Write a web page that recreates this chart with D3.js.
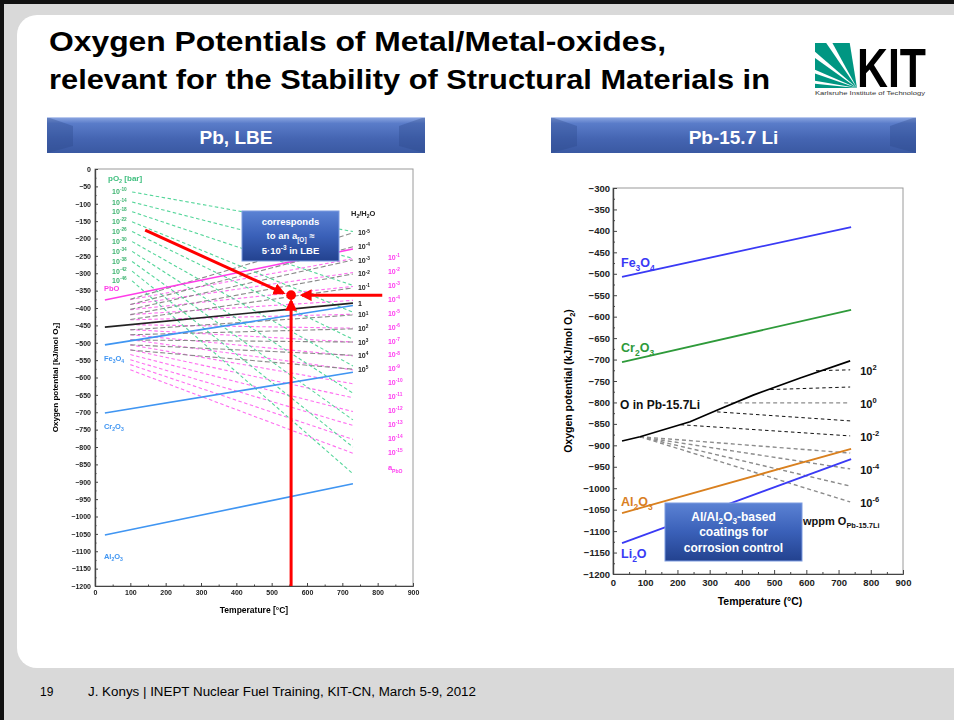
<!DOCTYPE html>
<html><head><meta charset="utf-8">
<script src="https://cdn.jsdelivr.net/npm/d3@7"></script>
<style>
body{margin:0;background:#fff}
svg{display:block}
text{font-family:Arial,"Liberation Sans",sans-serif}
</style>
</head><body>
<svg id="slide" width="954" height="720"></svg>
<script>
// ---------- shared axis values ----------
const tempTicks = [0,100,200,300,400,500,600,700,800,900];

// ---------- Pb / LBE diagram ----------
const lbeTicks = [0,-50,-100,-150,-200,-250,-300,-350,-400,-450,-500,-550,-600,-650,-700,-750,-800,-850,-900,-950,-1000,-1050,-1100,-1150,-1200];
// oxygen partial pressure isobars (start at 105 °C, end at 730 °C)
const pO2Exp   = [-10,-14,-18,-22,-26,-30,-34,-38,-42,-46];
const pO2Start = [-66,-95,-123,-152,-180,-209,-237,-266,-294,-322];
const pO2End   = [-180,-257,-335,-412,-490,-567,-645,-722,-800,-877];
const pO2Temps = [105,730];
// PbO activity lines (start at 100 °C, end at 730 °C)
const aPbOExp   = [-1,-2,-3,-4,-5,-6,-7,-8,-9,-10,-11,-12,-13,-14,-15];
const aPbOStart = [-376,-390,-405,-419,-434,-448,-462,-477,-491,-506,-520,-534,-549,-563,-578];
const aPbOEnd   = [-258,-298,-338,-378,-418,-458,-498,-538,-578,-618,-658,-698,-738,-778,-818];
const aPbOTemps = [100,730];
// H2/H2O ratio lines (start at 100 °C, end at 730 °C); exponent 0 is the solid line
const h2Exp   = [-5,-4,-3,-2,-1,0,1,2,3,4,5];
const h2Start = [-375,-390,-404,-419,-433,-448,-463,-477,-492,-506,-521];
const h2End   = [-184,-224,-262,-302,-342,-386,-420,-460,-498,-536,-576];
const h2Temps = [100,730];
const h2UnitStart = [28,-455];   // solid H2/H2O = 1 line begins at lower temperature
// metal / metal-oxide equilibria
const lbeOxides = ["PbO","Fe_3O_4","Cr_2O_3","Al_2O_3"];
const lbeOxStart = [-377,-506,-702,-1053];
const lbeOxEnd   = [-230,-393,-585,-906];
const lbeOxTemps = [28,730];
// operating point marked in red (temperature °C, potential kJ/mol O2)
const lbePoint = [555,-363];
const lbeArrowDiag = [[142,-176],[533,-357]];
const lbeArrowSide = [[813,-363],[586,-363]];
const lbeArrowUp   = [[555,-1200],[555,-380]];

// ---------- Pb-15.7Li diagram ----------
const liTicks = [-300,-350,-400,-450,-500,-550,-600,-650,-700,-750,-800,-850,-900,-950,-1000,-1050,-1100,-1150,-1200];
const liOxides  = ["Fe_3O_4","Cr_2O_3","Al_2O_3","Li_2O"];
const liOxStart = [-507,-706,-1058,-1128];
const liOxEnd   = [-391,-584,-908,-932];
const liOxTemps = [28,739];
// oxygen saturation in Pb-15.7Li
const satTemp = [28,84,239,326,435,581,736];
const satMu   = [-890,-880,-845,-817,-783,-743,-703];
// iso-concentration lines, wppm O
const wppmExp     = [2,1,0,-1,-2,-3,-4,-5,-6];
const wppmStartT  = [630,488,345,323,210,84,84,84,84];
const wppmStartMu = [-726,-770,-801,-822,-852,-880,-880,-880,-880];
const wppmEnd     = [-724,-764,-801,-843,-878,-918,-955,-995,-1032];
const wppmEndT    = 736;
const wppmLabelled = [2,0,-2,-4,-6];

// ---------- helpers ----------
const slide = d3.select("#slide");
const FONT = 'Arial,"Liberation Sans",sans-serif';

// "_x" or "_{..}" = subscript, "^x" or "^{..}" = superscript
function parseRich(s){
  const parts = [];
  const re = /_\{([^}]*)\}|\^\{([^}]*)\}|_(.)|\^(.)|([^_^]+)/g;
  let m;
  while((m = re.exec(s))){
    if(m[1]!==undefined) parts.push({t:m[1],sub:true});
    else if(m[2]!==undefined) parts.push({t:m[2],sup:true});
    else if(m[3]!==undefined) parts.push({t:m[3],sub:true});
    else if(m[4]!==undefined) parts.push({t:m[4],sup:true});
    else parts.push({t:m[5]});
  }
  return parts;
}
function richText(g, x, y, str, size, opts={}){
  const t = g.append("text").attr("x",x).attr("y",y)
    .attr("font-size",size).attr("font-weight",opts.weight||"bold")
    .attr("fill",opts.fill||"#000").attr("text-anchor",opts.anchor||"start");
  let shift = 0;
  parseRich(str).forEach(p=>{
    const target = p.sub ? size*0.3 : p.sup ? -size*0.42 : 0;
    t.append("tspan").attr("dy",target-shift)
      .attr("font-size",(p.sub||p.sup)?size*0.68:size).text(p.t);
    shift = target;
  });
  return t;
}
function expLabel(e, unitAsOne){
  if(e===0 && unitAsOne) return "1";
  return "10^{"+(e<0?"-":"")+Math.abs(e)+"}";
}

const defs = slide.append("defs");
function vGrad(id, stops){
  const g = defs.append("linearGradient").attr("id",id).attr("x1",0).attr("y1",0).attr("x2",0).attr("y2",1);
  stops.forEach(([o,c])=>g.append("stop").attr("offset",o).attr("stop-color",c));
}
vGrad("barGrad",[[0,"#8ea8e2"],[0.18,"#5a7cc9"],[0.6,"#4565b2"],[1,"#3a59a2"]]);
vGrad("boxGrad",[[0,"#5b82d4"],[0.5,"#3a60b8"],[1,"#23428f"]]);
defs.append("filter").attr("id","soft").append("feGaussianBlur").attr("stdDeviation",0.35);
defs.append("marker").attr("id","redHead").attr("viewBox","0 0 10 10")
  .attr("refX",8).attr("refY",5).attr("markerWidth",4).attr("markerHeight",4)
  .attr("orient","auto").attr("markerUnits","strokeWidth")
  .append("path").attr("d","M0,0L10,5L0,10Z").attr("fill","#ff0000");

// ---------- slide frame ----------
slide.append("rect").attr("width",954).attr("height",720).attr("fill","#d9d9d9");
slide.append("rect").attr("x",17).attr("y",15).attr("width",960).attr("height",653)
  .attr("rx",20).attr("fill","#ffffff");
slide.append("rect").attr("x",0).attr("y",0).attr("width",954).attr("height",4).attr("fill","#111");
slide.append("rect").attr("x",0).attr("y",0).attr("width",4).attr("height",720).attr("fill","#111");

// title
slide.append("text").attr("x",49).attr("y",51).attr("font-size",28).attr("font-weight","bold")
  .attr("textLength",617).attr("lengthAdjust","spacingAndGlyphs")
  .text("Oxygen Potentials of Metal/Metal-oxides,");
slide.append("text").attr("x",49).attr("y",89).attr("font-size",28).attr("font-weight","bold")
  .attr("textLength",721).attr("lengthAdjust","spacingAndGlyphs")
  .text("relevant for the Stability of Structural Materials in");

// KIT logo
const logo = slide.append("g");
defs.append("clipPath").attr("id","fanClip").append("rect")
  .attr("x",815).attr("y",43).attr("width",42).attr("height",45);
const fan = logo.append("g").attr("clip-path","url(#fanClip)")
  .append("g").attr("transform","translate(857,88)");
[[-1.571,-1.47],[-1.40,-1.24],[-1.16,-0.95],[-0.86,-0.60],[-0.50,-0.16]].forEach(([a0,a1])=>{
  fan.append("path").attr("d",d3.arc()({innerRadius:0,outerRadius:70,startAngle:a0,endAngle:a1}))
    .attr("fill","#009682");
});
logo.append("text").attr("x",857).attr("y",87).attr("font-size",56).attr("font-weight","bold")
  .attr("textLength",69).attr("lengthAdjust","spacingAndGlyphs").text("KIT");
logo.append("text").attr("x",815).attr("y",95).attr("font-size",4.6).attr("fill","#333")
  .attr("textLength",110).attr("lengthAdjust","spacingAndGlyphs").text("Karlsruhe Institute of Technology");

// section headers
function headerBar(x0,x1,label){
  const g = slide.append("g");
  const y0=117, y1=153, b=26;
  g.append("rect").attr("x",x0).attr("y",y0).attr("width",x1-x0).attr("height",y1-y0).attr("fill","url(#barGrad)");
  g.append("path").attr("d",`M${x0},${y0}L${x0+b},${y0+9}L${x0+b},${y1-7}L${x0},${y1}Z`).attr("fill","#2b4789").attr("opacity",0.35);
  g.append("path").attr("d",`M${x1},${y0}L${x1-b},${y0+9}L${x1-b},${y1-7}L${x1},${y1}Z`).attr("fill","#2b4789").attr("opacity",0.35);
  g.append("line").attr("x1",x0).attr("x2",x1).attr("y1",y0+0.5).attr("y2",y0+0.5).attr("stroke","#b9c9ee");
  g.append("text").attr("x",(x0+x1)/2).attr("y",144).attr("text-anchor","middle")
    .attr("font-size",19).attr("font-weight","bold").attr("fill","#fff").text(label);
}
headerBar(47,425,"Pb, LBE");
headerBar(551,916,"Pb-15.7 Li");

// footer
slide.append("text").attr("x",40).attr("y",696).attr("font-size",12).text("19");
slide.append("text").attr("x",88).attr("y",696).attr("font-size",12)
  .attr("textLength",388).attr("lengthAdjust","spacingAndGlyphs")
  .text("J. Konys | INEPT Nuclear Fuel Training, KIT-CN, March 5-9, 2012");

// ---------- axis helper ----------
function drawAxes(g, x, y, yTicks, o){
  g.append("rect").attr("x",x.range()[0]).attr("y",y.range()[0])
    .attr("width",x.range()[1]-x.range()[0]).attr("height",y.range()[1]-y.range()[0])
    .attr("fill","none").attr("stroke","#9a9a9a").attr("stroke-width",1);
  const yMinor = d3.pairs(yTicks).map(([a,b])=>(a+b)/2);
  const xMinor = d3.pairs(tempTicks).map(([a,b])=>(a+b)/2);
  const left = g.append("g").attr("transform",`translate(${x.range()[0]},0)`)
    .call(d3.axisLeft(y).tickValues(yTicks).tickSizeInner(-o.tick).tickSizeOuter(0).tickPadding(o.pad).tickFormat(d3.format("d")));
  g.append("g").attr("transform",`translate(${x.range()[0]},0)`)
    .call(d3.axisLeft(y).tickValues(yMinor).tickSizeInner(-o.tick/2).tickSizeOuter(0).tickFormat(""));
  const bottom = g.append("g").attr("transform",`translate(0,${y.range()[1]})`)
    .call(d3.axisBottom(x).tickValues(tempTicks).tickSizeInner(-o.tick).tickSizeOuter(0).tickPadding(o.padX));
  g.append("g").attr("transform",`translate(0,${y.range()[1]})`)
    .call(d3.axisBottom(x).tickValues(xMinor).tickSizeInner(-o.tick/2).tickSizeOuter(0).tickFormat(""));
  g.selectAll(".domain").attr("stroke","#444").attr("stroke-width",1.2);
  g.selectAll(".tick line").attr("stroke","#444");
  [left,bottom].forEach(a=>a.selectAll("text").attr("font-size",o.font).attr("font-weight","bold")
    .attr("fill","#222").attr("font-family",FONT));
}
function seg(g, x, y, t0, v0, t1, v1){
  return g.append("line").attr("x1",x(t0)).attr("y1",y(v0)).attr("x2",x(t1)).attr("y2",y(v1));
}

// ---------- left chart: Pb, LBE ----------
const xL = d3.scaleLinear().domain([0,900]).range([95,413]);
const yL = d3.scaleLinear().domain([0,-1200]).range([169,586]);
const gL = slide.append("g").attr("filter","url(#soft)");
drawAxes(gL, xL, yL, lbeTicks, {tick:3,pad:4,padX:4,font:7});
gL.append("text").attr("transform",`translate(58,${(169+586)/2}) rotate(-90)`)
  .attr("text-anchor","middle").attr("font-size",8).attr("font-weight","bold")
  .call(t=>{t.append("tspan").text("Oxygen potential [kJ/mol O");
           t.append("tspan").attr("dy",2).attr("font-size",5.5).text("2");
           t.append("tspan").attr("dy",-2).text("]");});
gL.append("text").attr("x",254).attr("y",613).attr("text-anchor","middle")
  .attr("font-size",8.5).attr("font-weight","bold").text("Temperature [°C]");

// magenta PbO activity lines
const gPb = gL.append("g").attr("stroke","#ff55ee").attr("stroke-width",1.1).attr("stroke-dasharray","3.5,2.5").attr("opacity",0.85);
aPbOExp.forEach((e,i)=>seg(gPb,xL,yL,aPbOTemps[0],aPbOStart[i],aPbOTemps[1],aPbOEnd[i]));
// gray H2/H2O lines
const gH = gL.append("g").attr("stroke","#8a8a8a").attr("stroke-width",1.1).attr("stroke-dasharray","5,2.5");
h2Exp.forEach((e,i)=>{ if(e!==0) seg(gH,xL,yL,h2Temps[0],h2Start[i],h2Temps[1],h2End[i]); });
// green pO2 isobars
const gO = gL.append("g").attr("stroke","#55d69a").attr("stroke-width",1.1).attr("stroke-dasharray","3.5,2.5");
pO2Exp.forEach((e,i)=>seg(gO,xL,yL,pO2Temps[0],pO2Start[i],pO2Temps[1],pO2End[i]));

// solid oxide lines
const oxColL = ["#ff3ce8","#3f95f2","#3f95f2","#3f95f2"];
lbeOxides.forEach((n,i)=>seg(gL,xL,yL,lbeOxTemps[0],lbeOxStart[i],lbeOxTemps[1],lbeOxEnd[i])
  .attr("stroke",oxColL[i]).attr("stroke-width",1.6));
const i0 = h2Exp.indexOf(0);
seg(gL,xL,yL,h2UnitStart[0],h2UnitStart[1],h2Temps[1],h2End[i0]).attr("stroke","#222").attr("stroke-width",1.6);

// labels, left chart
const oxDyL = [-9,16,16,24];
lbeOxides.forEach((n,i)=>richText(gL, xL(lbeOxTemps[0])-1, yL(lbeOxStart[i])+oxDyL[i], n, 7.5, {fill:oxColL[i]}));
richText(gL,108,181,"pO_2 [bar]",8,{fill:"#3fbf7f"});
pO2Exp.forEach((e,i)=>richText(gL,xL(pO2Temps[0])-20,yL(pO2Start[i])+2.5,expLabel(e),7,{fill:"#3db470"}));
richText(gL,351,216,"H_2/H_2O",7.5,{fill:"#222"});
h2Exp.forEach((e,i)=>richText(gL,xL(h2Temps[1])+5,yL(h2End[i])+2.5,expLabel(e,true),7,{fill:"#222"}));
aPbOExp.forEach((e,i)=>richText(gL,xL(aPbOTemps[1])+35,yL(aPbOEnd[i])+1.5,expLabel(e),7,{fill:"#ff3cf0"}));
richText(gL,xL(aPbOTemps[1])+35,yL(aPbOEnd[aPbOEnd.length-1])+17,"a_{PbO}",7.5,{fill:"#ff3cf0"});

// red operating-point annotation
const gR = slide.append("g").attr("stroke","#ff0000").attr("stroke-width",3);
[lbeArrowDiag,lbeArrowSide,lbeArrowUp].forEach(a=>
  seg(gR,xL,yL,a[0][0],a[0][1],a[1][0],a[1][1]).attr("marker-end","url(#redHead)"));
slide.append("circle").attr("cx",xL(lbePoint[0])).attr("cy",yL(lbePoint[1])).attr("r",4.8).attr("fill","#ff0000");

// callout boxes
function callout(x0,y0,w,h,lines,size,lh){
  const g = slide.append("g");
  g.append("rect").attr("x",x0).attr("y",y0).attr("width",w).attr("height",h)
    .attr("fill","url(#boxGrad)").attr("stroke","#7d9be0").attr("stroke-width",1);
  lines.forEach((l,i)=>richText(g,x0+w/2,y0+h/2+(i-(lines.length-1)/2)*lh+size*0.36,l,size,{fill:"#fff",anchor:"middle"}));
}
callout(242,211,97,50,["corresponds","to an a_{[O]} ≈","5·10^{-3}  in LBE"],9.5,14.5);

// ---------- right chart: Pb-15.7Li ----------
const xR = d3.scaleLinear().domain([0,900]).range([613,903]);
const yR = d3.scaleLinear().domain([-300,-1200]).range([188,574]);
const gR2 = slide.append("g");
drawAxes(gR2, xR, yR, liTicks, {tick:4,pad:3,padX:5,font:9.5});
gR2.append("text").attr("transform",`translate(572,${(188+574)/2}) rotate(-90)`)
  .attr("text-anchor","middle").attr("font-size",10.5).attr("font-weight","bold")
  .call(t=>{t.append("tspan").text("Oxygen potential (kJ/mol O");
           t.append("tspan").attr("dy",2.5).attr("font-size",7.5).text("2");
           t.append("tspan").attr("dy",-2.5).text(")");});
gR2.append("text").attr("x",760).attr("y",605).attr("text-anchor","middle")
  .attr("font-size",10.5).attr("font-weight","bold").text("Temperature (°C)");

// iso-concentration lines
wppmExp.forEach((e,i)=>{
  const gray = (e===0 || e<=-3);
  seg(gR2,xR,yR,wppmStartT[i],wppmStartMu[i],wppmEndT,wppmEnd[i])
    .attr("stroke",gray?"#8c8c8c":"#111").attr("stroke-width",gray?1.4:1)
    .attr("stroke-dasharray",gray?"4,3":"3.5,3");
});
// saturation line
gR2.append("path").datum(d3.zip(satTemp,satMu))
  .attr("d",d3.line().x(d=>xR(d[0])).y(d=>yR(d[1])))
  .attr("fill","none").attr("stroke","#000").attr("stroke-width",1.7);
// oxide lines
const oxColR = ["#3a3af5","#2e9a3a","#d9801f","#3a3af5"];
liOxides.forEach((n,i)=>seg(gR2,xR,yR,liOxTemps[0],liOxStart[i],liOxTemps[1],liOxEnd[i])
  .attr("stroke",oxColR[i]).attr("stroke-width",1.8));
const oxDyR = [-10,-10,-7,15];
liOxides.forEach((n,i)=>richText(gR2,xR(liOxTemps[0])-1,yR(liOxStart[i])+oxDyR[i],n,12.5,{fill:oxColR[i]}));
richText(gR2,xR(liOxTemps[0])-2,yR(satMu[0])-32,"O in Pb-15.7Li",12,{fill:"#111"});
wppmLabelled.forEach(e=>{
  const i = wppmExp.indexOf(e);
  richText(gR2,xR(wppmEndT)+10,yR(wppmEnd[i])+5,expLabel(e),11,{fill:"#111"});
});
richText(gR2,803,525,"wppm O_{Pb-15.7Li}",11,{fill:"#111"});
callout(665,503,137,58,["Al/Al_2O_3-based","coatings for","corrosion control"],12,15.5);
</script>
</body></html>
